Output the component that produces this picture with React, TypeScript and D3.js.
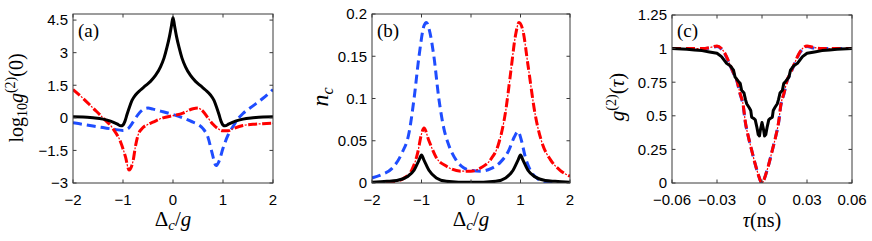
import React from "react";
import * as d3 from "d3";

// ---------- Panel (a): log10 g2(0) vs Δc/g ----------
const aBlackX = [-2, -1.8, -1.6, -1.4, -1.25, -1.12, -1.04, -1.0, -0.96, -0.92, -0.87, -0.82, -0.75, -0.65, -0.55, -0.45, -0.35, -0.25, -0.18, -0.12, -0.07, -0.03, 0, 0.03, 0.07, 0.12, 0.18, 0.25, 0.35, 0.45, 0.55, 0.65, 0.75, 0.82, 0.87, 0.92, 0.96, 1.0, 1.04, 1.12, 1.25, 1.4, 1.6, 1.8, 2];
const aBlackY = [0.05, 0.04, 0.0, -0.06, -0.15, -0.28, -0.37, -0.33, -0.15, 0.15, 0.5, 0.8, 1.05, 1.28, 1.48, 1.68, 1.95, 2.35, 2.75, 3.25, 3.75, 4.25, 4.62, 4.25, 3.75, 3.25, 2.75, 2.35, 1.95, 1.68, 1.48, 1.28, 1.05, 0.8, 0.5, 0.15, -0.15, -0.33, -0.37, -0.28, -0.15, -0.06, 0.0, 0.04, 0.05];
const aRedX = [-2, -1.8, -1.6, -1.4, -1.2, -1.05, -0.95, -0.88, -0.8, -0.75, -0.7, -0.6, -0.5, -0.4, -0.2, 0, 0.2, 0.4, 0.5, 0.6, 0.7, 0.8, 0.9, 1.0, 1.1, 1.2, 1.4, 1.6, 1.8, 2];
const aRedY = [1.3, 0.9, 0.45, 0.0, -0.5, -1.1, -1.8, -2.4, -2.0, -1.3, -0.8, -0.45, -0.3, -0.2, 0.0, 0.1, 0.22, 0.42, 0.45, 0.3, 0.0, -0.3, -0.5, -0.6, -0.6, -0.5, -0.35, -0.3, -0.27, -0.25];
const aBlueX = [-2, -1.8, -1.6, -1.4, -1.2, -1.0, -0.9, -0.8, -0.7, -0.6, -0.5, -0.4, -0.2, 0, 0.2, 0.4, 0.5, 0.6, 0.7, 0.78, 0.86, 0.92, 1.0, 1.1, 1.2, 1.3, 1.4, 1.6, 1.8, 2];
const aBlueY = [-0.22, -0.3, -0.38, -0.45, -0.52, -0.58, -0.5, -0.2, 0.15, 0.38, 0.45, 0.4, 0.28, 0.15, 0.0, -0.2, -0.3, -0.5, -0.9, -1.6, -2.2, -2.0, -1.4, -0.8, -0.4, -0.05, 0.2, 0.55, 0.9, 1.3];
const aXTicks = [-2, -1, 0, 1, 2];
const aYTicks = [-3, -1.5, 0, 1.5, 3, 4.5];

// ---------- Panel (b): n_c vs Δc/g ----------
const bBlackX = [-2, -1.7, -1.5, -1.3, -1.15, -1.05, -1.0, -0.95, -0.85, -0.7, -0.5, -0.25, 0, 0.25, 0.5, 0.7, 0.85, 0.95, 1.0, 1.05, 1.15, 1.3, 1.5, 1.7, 2];
const bBlackY = [0.001, 0.002, 0.003, 0.007, 0.015, 0.027, 0.033, 0.027, 0.015, 0.006, 0.002, 0.001, 0.001, 0.001, 0.002, 0.006, 0.015, 0.027, 0.033, 0.027, 0.015, 0.007, 0.003, 0.002, 0.001];
const bRedX = [-2, -1.7, -1.5, -1.35, -1.2, -1.08, -1.0, -0.95, -0.85, -0.7, -0.5, -0.2, 0, 0.2, 0.4, 0.55, 0.7, 0.8, 0.9, 0.97, 1.05, 1.15, 1.3, 1.45, 1.6, 1.8, 2];
const bRedY = [0.0, 0.001, 0.002, 0.006, 0.015, 0.035, 0.058, 0.065, 0.05, 0.03, 0.02, 0.014, 0.014, 0.018, 0.028, 0.045, 0.085, 0.13, 0.175, 0.19, 0.18, 0.14, 0.08, 0.045, 0.028, 0.015, 0.008];
const bBlueX = [-2, -1.8, -1.6, -1.4, -1.25, -1.15, -1.05, -0.95, -0.9, -0.85, -0.75, -0.65, -0.55, -0.45, -0.3, -0.15, 0, 0.2, 0.4, 0.6, 0.75, 0.88, 0.95, 1.02, 1.1, 1.2, 1.35, 1.5, 2];
const bBlueY = [0.006, 0.01, 0.017, 0.035, 0.06, 0.1, 0.15, 0.186, 0.19, 0.183, 0.15, 0.1, 0.065, 0.045, 0.027, 0.018, 0.015, 0.014, 0.017, 0.025, 0.037, 0.055, 0.061, 0.05, 0.03, 0.015, 0.005, 0.0, 0.0];
const bXTicks = [-2, -1, 0, 1, 2];
const bYTicks = [0, 0.05, 0.1, 0.15, 0.2];
const bYTickLabels = ["0", "0.05", "0.1", "0.15", "0.2"];

// ---------- Panel (c): g2(τ) vs τ ----------
const cBlackX = [-0.06, -0.05, -0.045, -0.04, -0.035, -0.03, -0.027, -0.0236, -0.021, -0.019, -0.018, -0.016, -0.0145, -0.0136, -0.012, -0.011, -0.0102, -0.0085, -0.0075, -0.0069, -0.0055, -0.0045, -0.0035, -0.0025, -0.0017, -0.001, 0, 0.001, 0.0017, 0.0025, 0.0035, 0.0045, 0.0055, 0.0069, 0.0075, 0.0085, 0.0102, 0.011, 0.012, 0.0136, 0.0145, 0.016, 0.018, 0.019, 0.021, 0.0236, 0.027, 0.03, 0.035, 0.04, 0.045, 0.05, 0.06];
const cBlackY = [1.0, 0.995, 0.99, 0.985, 0.975, 0.965, 0.94, 0.89, 0.87, 0.84, 0.79, 0.76, 0.74, 0.69, 0.67, 0.62, 0.59, 0.56, 0.54, 0.49, 0.48, 0.47, 0.42, 0.36, 0.35, 0.4, 0.45, 0.4, 0.35, 0.36, 0.42, 0.47, 0.48, 0.49, 0.54, 0.56, 0.59, 0.62, 0.67, 0.69, 0.74, 0.76, 0.79, 0.84, 0.87, 0.89, 0.94, 0.965, 0.975, 0.985, 0.99, 0.995, 1.0];
const cRedX = [-0.06, -0.04, -0.034, -0.03, -0.027, -0.0245, -0.0213, -0.019, -0.0169, -0.0147, -0.0124, -0.0113, -0.009, -0.0069, -0.0047, -0.0024, -0.001, 0, 0.001, 0.0024, 0.0047, 0.0069, 0.009, 0.0113, 0.0124, 0.0147, 0.0169, 0.019, 0.0213, 0.0245, 0.027, 0.03, 0.034, 0.04, 0.06];
const cRedY = [1.0, 1.0, 1.01, 1.02, 1.0, 0.96, 0.88, 0.82, 0.77, 0.67, 0.57, 0.47, 0.34, 0.245, 0.147, 0.06, 0.015, 0.0, 0.015, 0.06, 0.147, 0.245, 0.34, 0.47, 0.57, 0.67, 0.77, 0.82, 0.88, 0.96, 1.0, 1.02, 1.01, 1.0, 1.0];
const cBlueX = [-0.06, -0.04, -0.034, -0.03, -0.027, -0.0245, -0.0213, -0.019, -0.0169, -0.0147, -0.0124, -0.0113, -0.009, -0.0069, -0.0047, -0.0024, -0.001, 0, 0.001, 0.0024, 0.0047, 0.0069, 0.009, 0.0113, 0.0124, 0.0147, 0.0169, 0.019, 0.0213, 0.0245, 0.027, 0.03, 0.034, 0.04, 0.06];
const cBlueY = [1.0, 1.0, 1.005, 1.015, 0.995, 0.955, 0.875, 0.815, 0.765, 0.665, 0.565, 0.465, 0.34, 0.245, 0.147, 0.06, 0.015, 0.0, 0.015, 0.06, 0.147, 0.245, 0.34, 0.465, 0.565, 0.665, 0.765, 0.815, 0.875, 0.955, 0.995, 1.015, 1.005, 1.0, 1.0];
const cXTicks = [-0.06, -0.03, 0, 0.03, 0.06];
const cXTickLabels = ["−0.06", "−0.03", "0", "0.03", "0.06"];
const cYTicks = [0, 0.25, 0.5, 0.75, 1, 1.25];
const cYTickLabels = ["0", "0.25", "0.5", "0.75", "1", "1.25"];

const BLUE = "#1f4dff";
const RED = "#ff0000";
const SANS = "'Liberation Sans', Arial, Helvetica, sans-serif";
const SERIF = "'Liberation Serif', 'Times New Roman', serif";

type Series = { x: number[]; y: number[]; kind: "black" | "red" | "blue"; curve?: any };

function fmt(v: number) {
  return String(v).replace("-", "−");
}

function Panel(props: {
  x0: number; x1: number; y0: number; y1: number;
  xDomain: [number, number]; yDomain: [number, number];
  xTicks: number[]; yTicks: number[];
  xTickLabels?: string[]; yTickLabels?: string[];
  series: Series[]; tag: string;
}) {
  const { x0, x1, y0, y1 } = props;
  const xs = d3.scaleLinear().domain(props.xDomain).range([x0, x1]);
  const ys = d3.scaleLinear().domain(props.yDomain).range([y1, y0]);
  const tl = 3.5;
  const clipId = "clip" + props.tag;
  const paths = props.series.map((s, i) => {
    const line = d3
      .line<number>()
      .x((_, j) => xs(s.x[j]))
      .y((_, j) => ys(s.y[j]))
      .curve(s.curve || d3.curveMonotoneX);
    const d = line(s.y) || "";
    if (s.kind === "black") {
      return <path key={i} d={d} fill="none" stroke="#000" strokeWidth={3} strokeLinejoin="round" />;
    }
    if (s.kind === "blue") {
      return <path key={i} d={d} fill="none" stroke={BLUE} strokeWidth={3} strokeDasharray="9 5" />;
    }
    return (
      <g key={i}>
        <path d={d} fill="none" stroke={RED} strokeWidth={3} strokeDasharray="9 5" />
        <path d={d} fill="none" stroke={RED} strokeWidth={1.2} strokeDasharray="0 10.5 2 1.5" />
      </g>
    );
  });
  return (
    <g>
      <clipPath id={clipId}>
        <rect x={x0} y={y0} width={x1 - x0} height={y1 - y0} />
      </clipPath>
      <rect x={x0} y={y0} width={x1 - x0} height={y1 - y0} fill="#fff" />
      <g clipPath={`url(#${clipId})`}>{paths}</g>
      <rect x={x0} y={y0} width={x1 - x0} height={y1 - y0} fill="none" stroke="#3a3a3a" strokeWidth={1} />
      {props.xTicks.map((t, i) => (
        <g key={"xt" + i}>
          <line x1={xs(t)} x2={xs(t)} y1={y1} y2={y1 - tl} stroke="#3a3a3a" />
          <line x1={xs(t)} x2={xs(t)} y1={y0} y2={y0 + tl} stroke="#3a3a3a" />
          <text x={xs(t)} y={205} textAnchor="middle" fontFamily={SANS} fontSize={15} fill="#000">
            {props.xTickLabels ? props.xTickLabels[i] : fmt(t)}
          </text>
        </g>
      ))}
      {props.yTicks.map((t, i) => (
        <g key={"yt" + i}>
          <line x1={x0} x2={x0 + tl} y1={ys(t)} y2={ys(t)} stroke="#3a3a3a" />
          <line x1={x1} x2={x1 - tl} y1={ys(t)} y2={ys(t)} stroke="#3a3a3a" />
          <text x={x0 - 5} y={ys(t)} dy="0.36em" textAnchor="end" fontFamily={SANS} fontSize={15} fill="#000">
            {props.yTickLabels ? props.yTickLabels[i] : fmt(t)}
          </text>
        </g>
      ))}
      <text x={x0 + 5} y={37} fontFamily={SERIF} fontSize={19} fill="#000">
        ({props.tag})
      </text>
    </g>
  );
}

export default function App() {
  return (
    <svg width={872} height={241} style={{ position: "absolute", left: 0, top: 0, background: "#fff" }}>
      <Panel
        x0={73} x1={273} y0={14} y1={183}
        xDomain={[-2, 2]} yDomain={[-3, 4.78]}
        xTicks={aXTicks} yTicks={aYTicks}
        tag="a"
        series={[
          { x: aBlueX, y: aBlueY, kind: "blue" },
          { x: aRedX, y: aRedY, kind: "red" },
          { x: aBlackX, y: aBlackY, kind: "black" },
        ]}
      />
      <Panel
        x0={372} x1={570} y0={14} y1={183}
        xDomain={[-2, 2]} yDomain={[0, 0.2]}
        xTicks={bXTicks} yTicks={bYTicks} yTickLabels={bYTickLabels}
        tag="b"
        series={[
          { x: bBlueX, y: bBlueY, kind: "blue" },
          { x: bRedX, y: bRedY, kind: "red" },
          { x: bBlackX, y: bBlackY, kind: "black" },
        ]}
      />
      <Panel
        x0={672} x1={852} y0={15} y1={183}
        xDomain={[-0.06, 0.06]} yDomain={[0, 1.25]}
        xTicks={cXTicks} yTicks={cYTicks} xTickLabels={cXTickLabels} yTickLabels={cYTickLabels}
        tag="c"
        series={[
          { x: cBlueX, y: cBlueY, kind: "blue" },
          { x: cRedX, y: cRedY, kind: "red" },
          { x: cBlackX, y: cBlackY, kind: "black", curve: d3.curveLinear },
        ]}
      />
      {/* axis labels */}
      <text x={173} y={226} textAnchor="middle" fontFamily={SERIF} fontSize={21} fill="#000">
        Δ<tspan fontStyle="italic" fontSize={15} dy={4}>c</tspan>
        <tspan dy={-4}>/</tspan>
        <tspan fontStyle="italic">g</tspan>
      </text>
      <text x={471} y={226} textAnchor="middle" fontFamily={SERIF} fontSize={21} fill="#000">
        Δ<tspan fontStyle="italic" fontSize={15} dy={4}>c</tspan>
        <tspan dy={-4}>/</tspan>
        <tspan fontStyle="italic">g</tspan>
      </text>
      <text x={762} y={227} textAnchor="middle" fontFamily={SERIF} fontSize={20} fill="#000">
        <tspan fontStyle="italic">τ</tspan>(ns)
      </text>
      <text transform="translate(23,98) rotate(-90)" textAnchor="middle" fontFamily={SERIF} fontSize={20} fill="#000">
        log<tspan fontSize={14} dy={4}>10</tspan>
        <tspan fontStyle="italic" dy={-4}>g</tspan>
        <tspan fontSize={14} dy={-8}>(2)</tspan>
        <tspan dy={8}>(0)</tspan>
      </text>
      <text transform="translate(328,97) rotate(-90)" textAnchor="middle" fontFamily={SERIF} fontSize={24} fill="#000">
        <tspan fontStyle="italic">n</tspan>
        <tspan fontStyle="italic" fontSize={16} dy={5}>c</tspan>
      </text>
      <text transform="translate(624,97) rotate(-90)" textAnchor="middle" fontFamily={SERIF} fontSize={21} fill="#000">
        <tspan fontStyle="italic">g</tspan>
        <tspan fontSize={14} dy={-8}>(2)</tspan>
        <tspan dy={8}>(</tspan>
        <tspan fontStyle="italic">τ</tspan>
        <tspan>)</tspan>
      </text>
    </svg>
  );
}
